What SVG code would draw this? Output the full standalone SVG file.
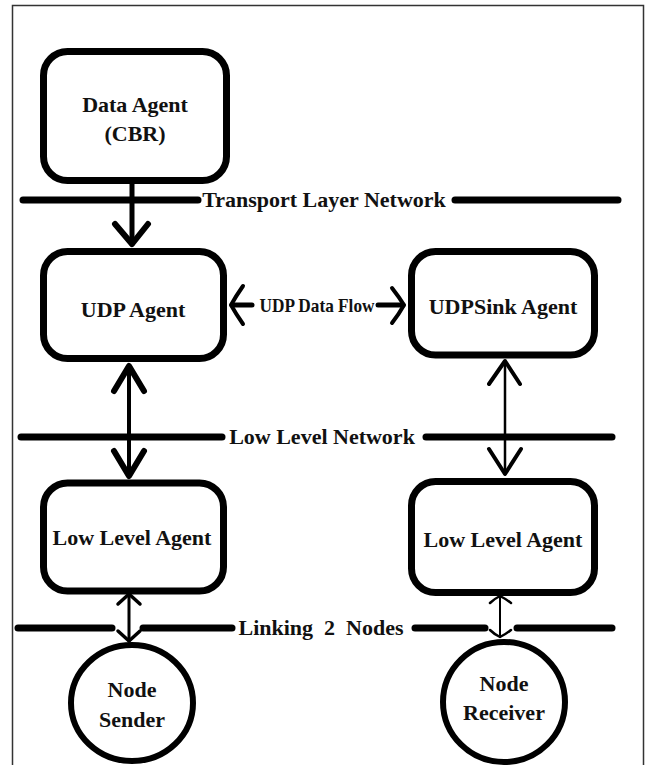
<svg xmlns="http://www.w3.org/2000/svg" width="657" height="765" viewBox="0 0 657 765">
<style>
.box{fill:#fff;stroke:#000;stroke-width:7}
.net{stroke:#000;stroke-width:7;stroke-linecap:round;fill:none}
.t{font-family:"Liberation Serif","Times New Roman",serif;font-weight:bold;font-size:22px;fill:#111;text-anchor:middle}
.s{font-size:19px}
.ln{stroke:#000;fill:none;stroke-linecap:round;stroke-linejoin:round}
</style>
<rect x="0" y="0" width="657" height="765" fill="#fff"/>
<rect x="12.5" y="5.5" width="631" height="780" fill="none" stroke="#333" stroke-width="1.5"/>

<g id="networks">
<line class="net" x1="23" y1="200" x2="198" y2="200"/>
<line class="net" x1="455" y1="200" x2="618" y2="200"/>
<text class="t" x="324" y="207">Transport Layer Network</text>
<line class="net" x1="21" y1="437" x2="222" y2="437"/>
<line class="net" x1="426" y1="437" x2="612" y2="437"/>
<text class="t" x="322" y="444">Low Level Network</text>
<line class="net" x1="18" y1="628" x2="112" y2="628"/>
<line class="net" x1="143" y1="628" x2="232" y2="628"/>
<line class="net" x1="415" y1="628" x2="485" y2="628"/>
<line class="net" x1="517" y1="628" x2="612" y2="628"/>
<text class="t" x="321" y="635" style="white-space:pre">Linking  2  Nodes</text>
</g>

<g id="data-agent">
<rect class="box" x="43.5" y="51.5" width="183" height="129" rx="24"/>
<text class="t" x="135" y="112">Data Agent</text>
<text class="t" x="135" y="141">(CBR)</text>
</g>

<g id="udp-agent">
<rect class="box" x="43.5" y="251.5" width="180" height="107" rx="24"/>
<text class="t" x="133" y="317">UDP Agent</text>
</g>

<g id="udpsink-agent">
<rect class="box" x="411.5" y="251.5" width="183" height="103.5" rx="24"/>
<text class="t" x="503" y="314">UDPSink Agent</text>
</g>

<g id="low-level-agent-sender">
<rect class="box" x="43.5" y="483" width="180" height="108" rx="24"/>
<text class="t" x="132" y="545">Low Level Agent</text>
</g>

<g id="low-level-agent-receiver">
<rect class="box" x="411.5" y="481.5" width="183" height="111" rx="24"/>
<text class="t" x="503" y="547">Low Level Agent</text>
</g>

<g id="node-sender">
<ellipse cx="132" cy="703" rx="61" ry="58" fill="#fff" stroke="#000" stroke-width="6"/>
<text class="t" x="132" y="697">Node</text>
<text class="t" x="132" y="727">Sender</text>
</g>

<g id="node-receiver">
<ellipse cx="504" cy="702" rx="61" ry="60" fill="#fff" stroke="#000" stroke-width="6"/>
<text class="t" x="504" y="691">Node</text>
<text class="t" x="504" y="720">Receiver</text>
</g>

<g id="connectors">
<line class="ln" x1="132" y1="181" x2="132" y2="244" stroke-width="5"/>
<path class="ln" d="M115,224 L132,244 L148,224" stroke-width="6"/>

<line class="ln" x1="232" y1="305" x2="252" y2="305" stroke-width="5"/>
<path class="ln" d="M243,286 Q236,296 231,305 Q236,314 243,324" stroke-width="4"/>
<text class="t s" x="317" y="312" textLength="115" lengthAdjust="spacingAndGlyphs">UDP Data Flow</text>
<line class="ln" x1="378" y1="305" x2="403" y2="305" stroke-width="5"/>
<path class="ln" d="M392,288 Q399,297 404,305 Q399,314 392,323" stroke-width="4"/>

<line class="ln" x1="129" y1="366" x2="129" y2="476" stroke-width="4"/>
<path class="ln" d="M114,391 L129,366 L144,391" stroke-width="6"/>
<path class="ln" d="M114,451 L129,476 L144,451" stroke-width="6"/>

<line class="ln" x1="505" y1="361" x2="505" y2="474" stroke-width="2.5"/>
<path class="ln" d="M489,384 L505,361 L520,384" stroke-width="4"/>
<path class="ln" d="M489,449 L505,474 L521,449" stroke-width="4"/>

<line class="ln" x1="129" y1="594" x2="129" y2="641" stroke-width="3"/>
<path class="ln" d="M118,604 L129,594 L140,604" stroke-width="3.5"/>
<path class="ln" d="M118,631 L129,641 L140,631" stroke-width="3.5"/>

<line class="ln" x1="500" y1="596" x2="500" y2="637" stroke-width="2"/>
<path class="ln" d="M490,603 Q494,599 500,596 Q506,599 511,603" stroke-width="2.5"/>
<path class="ln" d="M490,630 Q494,634 500,637 Q506,634 511,630" stroke-width="2.5"/>
</g>
</svg>
